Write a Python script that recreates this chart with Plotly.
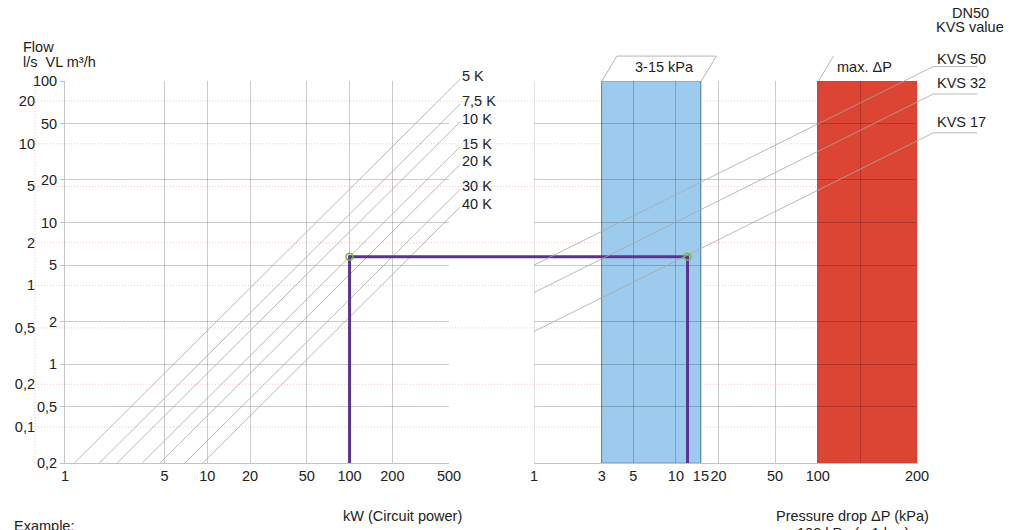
import math
import plotly.graph_objects as go

W, H = 1009, 530

# ---------------- data ----------------
power_ticks = [1, 5, 10, 20, 50, 100, 200, 500]
power_tick_text = ["1", "5", "10", "20", "50", "100", "200", "500"]
dp_ticks = [1, 3, 5, 10, 15, 20, 50, 100, 200, 500]
dp_tick_text = ["1", "3", "5", "10", "15", "20", "50", "100", "", "200"]
flow_m3h_ticks = [0.2, 0.5, 1, 2, 5, 10, 20, 50, 100]
flow_m3h_text = ["0,2", "0,5", "1", "2", "5", "10", "20", "50", "100"]
flow_ls_ticks = [0.1, 0.2, 0.5, 1, 2, 5, 10, 20]
flow_ls_text = ["0,1", "0,2", "0,5", "1", "2", "5", "10", "20"]

delta_t = [5, 7.5, 10, 15, 20, 30, 40]
delta_t_labels = ["5 K", "7,5 K", "10 K", "15 K", "20 K", "30 K", "40 K"]
kvs_values = [50, 32, 17]
kvs_labels = ["KVS 50", "KVS 32", "KVS 17"]

flow_min, flow_max = 0.2, 100          # m3/h
power_max = 500                        # kW
power_line_end = 600                   # kW, end of dT lines (label point)
dp_min = 1                             # kPa
dp_line_end = 640                      # kPa, end of Kvs diagonals
dp_label_end = 1300                    # kPa, end of Kvs underline
band_dp = [3, 15]
max_dp = [100, 500]

example_power = 100   # kW
example_dt = 15       # K
example_dp = 12       # kPa

LS_TO_M3H = 3.6
KW_PER_M3H_K = 1.163

# ---------------- geometry ----------------
L_DOM = [65 / W, 449 / W]
R_DOM = [534 / W, 917 / W]
Y_DOM = [1 - 463 / H, 1 - 81 / H]
xr = [0, math.log10(power_max)]
yr = [math.log10(flow_min), math.log10(flow_max)]
ppd_x = (L_DOM[1] - L_DOM[0]) * W / (xr[1] - xr[0])
ppd_y = (Y_DOM[1] - Y_DOM[0]) * H / (yr[1] - yr[0])
full_xL = [xr[0] - L_DOM[0] * W / ppd_x, xr[0] + (1 - L_DOM[0]) * W / ppd_x]
full_xR = [xr[0] - R_DOM[0] * W / ppd_x, xr[0] + (1 - R_DOM[0]) * W / ppd_x]
full_y = [yr[0] - Y_DOM[0] * H / ppd_y, yr[0] + (1 - Y_DOM[0]) * H / ppd_y]
right_to_left = 10 ** ((R_DOM[0] - L_DOM[0]) * W / ppd_x)

FONT = "Liberation Sans, Arial, sans-serif"
FS = 14.5
TXT = "#222222"
GRID = "rgba(0,0,0,0.2)"
THIN = "#a8a8a8"
PINK = "#f3c1cf"

fig = go.Figure()

# dT lines
for dt, lab in zip(delta_t, delta_t_labels):
    p0 = flow_min * KW_PER_M3H_K * dt
    xs = [p0, power_line_end]
    ys = [p / (KW_PER_M3H_K * dt) for p in xs]
    fig.add_trace(go.Scatter(x=xs, y=ys, xaxis="x3", yaxis="y3", mode="lines",
                             line=dict(color=THIN, width=0.8), hoverinfo="skip",
                             showlegend=False))
    fig.add_annotation(xref="x3", yref="y3", x=math.log10(xs[1]), y=math.log10(ys[1]),
                       text=lab, showarrow=False, xanchor="left", yanchor="middle",
                       yshift=3, xshift=0, font=dict(size=FS, color=TXT, family=FONT))

# Kvs lines
kvs_shift = [-2, 1, 1]
for kv, lab, sh in zip(kvs_values, kvs_labels, kvs_shift):
    q_end = kv * math.sqrt(dp_line_end / 100)
    xs = [dp_min, dp_line_end, dp_label_end]
    ys = [kv * math.sqrt(dp_min / 100), q_end, q_end]
    fig.add_trace(go.Scatter(x=xs, y=ys, xaxis="x4", yaxis="y3", mode="lines",
                             line=dict(color=THIN, width=0.8), hoverinfo="skip",
                             showlegend=False))
    fig.add_annotation(xref="x4", yref="y3", x=math.log10(dp_line_end), y=math.log10(q_end),
                       text=lab, showarrow=False, xanchor="left", yanchor="bottom",
                       xshift=2, yshift=sh, font=dict(size=FS, color=TXT, family=FONT))

# example path
q_ex = example_power / (KW_PER_M3H_K * example_dt)
x_right = example_dp * right_to_left
fig.add_trace(go.Scatter(x=[example_power, example_power, x_right, x_right],
                         y=[flow_min, q_ex, q_ex, flow_min], xaxis="x3", yaxis="y3",
                         mode="lines", line=dict(color="#5b3391", width=3),
                         hoverinfo="skip", showlegend=False))
for xa, xv in (("x3", example_power), ("x4", example_dp)):
    fig.add_trace(go.Scatter(x=[xv], y=[q_ex], xaxis=xa, yaxis="y3", mode="markers",
                             marker=dict(symbol="circle-open", size=7, color="#6fbf3a",
                                         line=dict(width=1.5, color="#6fbf3a")),
                             hoverinfo="skip", showlegend=False))

# invisible traces to create the panel subplots
for xa, ya in (("x", "y"), ("x2", "y"), ("x", "y2")):
    fig.add_trace(go.Scatter(x=[1], y=[1], xaxis=xa, yaxis=ya, mode="markers",
                             marker=dict(opacity=0), hoverinfo="skip", showlegend=False))

shapes = []
# pink l/s grid
for v in flow_ls_ticks:
    shapes.append(dict(type="line", xref="paper", yref="y2", x0=35 / W, x1=R_DOM[1],
                       y0=v, y1=v, layer="below",
                       line=dict(color=PINK, width=1, dash="1px,2px")))
shapes.append(dict(type="line", xref="paper", yref="y", x0=35 / W, x1=35 / W,
                   y0=flow_min, y1=flow_max, layer="below",
                   line=dict(color=PINK, width=1, dash="1px,2px")))
# bands
shapes.append(dict(type="rect", xref="x2", yref="y", x0=band_dp[0], x1=band_dp[1],
                   y0=flow_min, y1=flow_max, layer="below", fillcolor="#9ccbee",
                   line=dict(color="#6f9cc6", width=1)))
shapes.append(dict(type="rect", xref="x2", yref="y", x0=max_dp[0], x1=max_dp[1],
                   y0=flow_min, y1=flow_max, layer="below", fillcolor="#dc4434",
                   line=dict(color="#c9402f", width=1)))
# left border of the right panel
shapes.append(dict(type="line", xref="x2", yref="y", x0=dp_ticks[0], x1=dp_ticks[0],
                   y0=flow_min, y1=flow_max, layer="below",
                   line=dict(color="#c8c8c8", width=1)))
# label frames above bands
skew = 1.275
top_q = 150
FR = dict(color="#b5b5b5", width=1)
shapes += [
    dict(type="line", xref="x4", yref="y3", x0=band_dp[0], y0=flow_max,
         x1=band_dp[0] * skew, y1=top_q, line=FR),
    dict(type="line", xref="x4", yref="y3", x0=band_dp[0] * skew, y0=top_q,
         x1=band_dp[1] * skew, y1=top_q, line=FR),
    dict(type="line", xref="x4", yref="y3", x0=band_dp[1] * skew, y0=top_q,
         x1=band_dp[1], y1=flow_max, line=FR),
    dict(type="line", xref="x4", yref="y3", x0=max_dp[0], y0=flow_max,
         x1=max_dp[0] * skew, y1=top_q, line=FR),
]


def txt(x, y, s, xa="center"):
    fig.add_annotation(xref="paper", yref="paper", x=x / W, y=1 - y / H, text=s,
                       showarrow=False, xanchor=xa, yanchor="middle",
                       font=dict(size=FS, color=TXT, family=FONT))


txt(21, 47, "Flow", "left")
txt(21, 62, "l/s  VL m³/h", "left")
txt(970, 13, "DN50")
txt(970, 27, "KVS value")
txt(664, 67, "3-15 kPa")
txt(864, 67, "max. ΔP")
txt(402, 516, "kW (Circuit power)")
txt(852, 516, "Pressure drop ΔP (kPa)")
txt(853, 533, "100 kPa (= 1 bar)")
txt(12, 526, "Example:", "left")

tickfont = dict(size=FS, color=TXT, family=FONT)
common_x = dict(type="log", range=xr, showgrid=True, gridcolor=GRID, gridwidth=1,
                showline=True, linecolor="#c4c4c4", linewidth=1, ticks="",
                tickfont=tickfont, zeroline=False, fixedrange=True, automargin=False,
                tickangle=0)

fig.update_layout(
    template="none",
    width=W, height=H, margin=dict(l=0, r=0, t=0, b=0, pad=0, autoexpand=False),
    paper_bgcolor="white", plot_bgcolor="rgba(0,0,0,0)",
    showlegend=False, shapes=shapes, font=dict(family=FONT, color=TXT),
    xaxis=dict(domain=L_DOM, anchor="y", tickvals=power_ticks, ticktext=power_tick_text,
               **common_x),
    xaxis2=dict(domain=R_DOM, anchor="y", tickvals=dp_ticks, ticktext=dp_tick_text,
                **common_x),
    yaxis=dict(domain=Y_DOM, anchor="x", type="log", range=yr, tickvals=flow_m3h_ticks,
               ticktext=flow_m3h_text, showgrid=True, gridcolor=GRID, showline=True,
               linecolor="#c4c4c4", ticks="outside", ticklen=4, tickcolor="#c4c4c4",
               tickfont=tickfont, zeroline=False, fixedrange=True, automargin=False),
    yaxis2=dict(overlaying="y", anchor="free", position=35 / W, side="left", type="log",
                range=[math.log10(flow_min / LS_TO_M3H), math.log10(flow_max / LS_TO_M3H)],
                tickvals=flow_ls_ticks, ticktext=flow_ls_text, showgrid=False,
                showline=False, ticks="", tickfont=tickfont, zeroline=False,
                fixedrange=True, automargin=False),
    xaxis3=dict(domain=[0, 1], anchor="y3", type="log", range=full_xL, visible=False,
                fixedrange=True, automargin=False),
    yaxis3=dict(domain=[0, 1], anchor="x3", type="log", range=full_y, visible=False,
                fixedrange=True, automargin=False),
    xaxis4=dict(domain=[0, 1], anchor="y3", type="log", range=full_xR, visible=False,
                fixedrange=True, automargin=False),
)

fig.write_html(
    "out.html",
    config={"displayModeBar": False, "staticPlot": True},
    post_script="document.body.style.margin='0';document.body.style.overflow='hidden';",
)
